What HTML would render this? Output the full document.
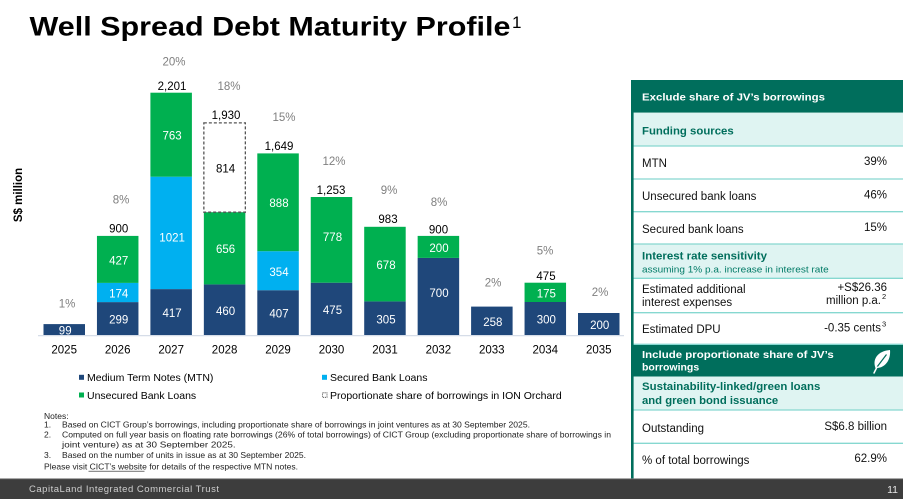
<!DOCTYPE html>
<html><head><meta charset="utf-8">
<style>
html,body{margin:0;padding:0;background:#fff;}
body{width:903px;height:499px;overflow:hidden;}
svg{display:block;font-family:"Liberation Sans",Arial,sans-serif;}
</style></head>
<body>
<svg width="903" height="499" viewBox="0 0 903 499" xmlns="http://www.w3.org/2000/svg">
<rect x="0" y="0" width="903" height="499" fill="#ffffff"/>

<!-- Title -->
<text x="29.5" y="35.7" font-size="27" font-weight="bold" fill="#000" textLength="481" lengthAdjust="spacingAndGlyphs">Well Spread Debt Maturity Profile</text>
<text x="512" y="28" font-size="17" fill="#000">1</text>

<!-- Y axis label -->
<text transform="translate(22,195) rotate(-90)" text-anchor="middle" font-size="11.5" font-weight="bold" fill="#000">S$ million</text>

<!-- Bars -->
<g>
<rect x="43.5" y="324.1" width="41.5" height="10.9" fill="#1f477a"/>

<rect x="96.95" y="302.1" width="41.5" height="32.9" fill="#1f477a"/>
<rect x="96.95" y="282.9" width="41.5" height="19.2" fill="#00b0f0"/>
<rect x="96.95" y="235.9" width="41.5" height="47.0" fill="#00b050"/>

<rect x="150.4" y="289.1" width="41.5" height="45.9" fill="#1f477a"/>
<rect x="150.4" y="176.7" width="41.5" height="112.4" fill="#00b0f0"/>
<rect x="150.4" y="92.7" width="41.5" height="84.0" fill="#00b050"/>

<rect x="203.85" y="284.4" width="41.5" height="50.6" fill="#1f477a"/>
<rect x="203.85" y="212.2" width="41.5" height="72.2" fill="#00b050"/>
<rect x="203.85" y="122.9" width="41.5" height="89.3" fill="none" stroke="#555" stroke-width="1.3" stroke-dasharray="3 2"/>

<rect x="257.3" y="290.2" width="41.5" height="44.8" fill="#1f477a"/>
<rect x="257.3" y="251.2" width="41.5" height="39.0" fill="#00b0f0"/>
<rect x="257.3" y="153.4" width="41.5" height="97.8" fill="#00b050"/>

<rect x="310.75" y="282.7" width="41.5" height="52.3" fill="#1f477a"/>
<rect x="310.75" y="197.0" width="41.5" height="85.7" fill="#00b050"/>

<rect x="364.2" y="301.4" width="41.5" height="33.6" fill="#1f477a"/>
<rect x="364.2" y="226.8" width="41.5" height="74.6" fill="#00b050"/>

<rect x="417.65" y="257.9" width="41.5" height="77.1" fill="#1f477a"/>
<rect x="417.65" y="235.9" width="41.5" height="22.0" fill="#00b050"/>

<rect x="471.1" y="306.6" width="41.5" height="28.4" fill="#1f477a"/>

<rect x="524.55" y="302.0" width="41.5" height="33.0" fill="#1f477a"/>
<rect x="524.55" y="282.7" width="41.5" height="19.3" fill="#00b050"/>

<rect x="578.0" y="313.0" width="41.5" height="22.0" fill="#1f477a"/>
</g>

<!-- axis line -->
<line x1="38" y1="335.6" x2="624" y2="335.6" stroke="#d6dde8" stroke-width="1.2"/>

<!-- inner labels -->
<g font-size="11.5" fill="#fff" text-anchor="middle">
<text x="65.2" y="334.6">99</text>
<text x="118.7" y="323.4">299</text>
<text x="118.7" y="297.4">174</text>
<text x="118.7" y="264.4">427</text>
<text x="172.1" y="316.8">417</text>
<text x="172.1" y="241.4">1021</text>
<text x="172.1" y="139.4">763</text>
<text x="225.6" y="314.8">460</text>
<text x="225.6" y="253.1">656</text>
<text x="225.6" y="172.4" fill="#000">814</text>
<text x="279" y="317.4">407</text>
<text x="279" y="275.8">354</text>
<text x="279" y="207.1">888</text>
<text x="332.5" y="314.1">475</text>
<text x="332.5" y="241.1">778</text>
<text x="386" y="323.4">305</text>
<text x="386" y="269.1">678</text>
<text x="439" y="296.8">700</text>
<text x="439" y="251.8">200</text>
<text x="492.8" y="325.8">258</text>
<text x="546.3" y="323.4">300</text>
<text x="546.3" y="297.4">175</text>
<text x="599.7" y="329.1">200</text>
</g>

<!-- totals -->
<g font-size="11.5" fill="#000" text-anchor="middle">
<text x="118.7" y="232.4">900</text>
<text x="172" y="90.1">2,201</text>
<text x="226" y="119.1">1,930</text>
<text x="279" y="150.1">1,649</text>
<text x="331" y="193.8">1,253</text>
<text x="388" y="223.1">983</text>
<text x="438.5" y="233.4">900</text>
<text x="546" y="280.1">475</text>
</g>

<!-- percentages -->
<g font-size="11.5" fill="#7f7f7f" text-anchor="middle">
<text x="67" y="307.4">1%</text>
<text x="121" y="203.4">8%</text>
<text x="174" y="65.4">20%</text>
<text x="229" y="89.8">18%</text>
<text x="284" y="120.8">15%</text>
<text x="334" y="165.1">12%</text>
<text x="389" y="193.8">9%</text>
<text x="439" y="205.8">8%</text>
<text x="493" y="286.4">2%</text>
<text x="545" y="254.4">5%</text>
<text x="600" y="296.1">2%</text>
</g>

<!-- years -->
<g font-size="11.5" fill="#000" text-anchor="middle">
<text x="64.2" y="353.4">2025</text>
<text x="117.7" y="353.4">2026</text>
<text x="171.2" y="353.4">2027</text>
<text x="224.6" y="353.4">2028</text>
<text x="278" y="353.4">2029</text>
<text x="331.5" y="353.4">2030</text>
<text x="385" y="353.4">2031</text>
<text x="438.4" y="353.4">2032</text>
<text x="491.8" y="353.4">2033</text>
<text x="545.3" y="353.4">2034</text>
<text x="598.8" y="353.4">2035</text>
</g>

<!-- legend -->
<rect x="79" y="374.8" width="5" height="5" fill="#1f477a"/>
<text x="87" y="381.1" font-size="10.5" fill="#000">Medium Term Notes (MTN)</text>
<rect x="322" y="374.8" width="5" height="5" fill="#00b0f0"/>
<text x="330" y="381.1" font-size="10.5" fill="#000">Secured Bank Loans</text>
<rect x="79" y="392.5" width="5" height="5" fill="#00b050"/>
<text x="87" y="398.8" font-size="10.5" fill="#000">Unsecured Bank Loans</text>
<rect x="322.5" y="392.8" width="4.5" height="4.5" fill="none" stroke="#444" stroke-width="0.8" stroke-dasharray="1.2 0.8"/>
<text x="330" y="398.8" font-size="10.5" fill="#000">Proportionate share of borrowings in ION Orchard</text>

<!-- notes -->
<g font-size="8.5" fill="#222">
<text x="44" y="419">Notes:</text>
<text x="44" y="427.3">1.</text>
<text x="62" y="427.3" textLength="468" lengthAdjust="spacingAndGlyphs">Based on CICT Group’s borrowings, including proportionate share of borrowings in joint ventures as at 30 September 2025.</text>
<text x="44" y="437.3">2.</text>
<text x="62" y="437.3" textLength="549" lengthAdjust="spacingAndGlyphs">Computed on full year basis on floating rate borrowings (26% of total borrowings) of CICT Group (excluding proportionate share of borrowings in</text>
<text x="62" y="447.3" textLength="173.6" lengthAdjust="spacingAndGlyphs">joint venture) as at 30 September 2025.</text>
<text x="44" y="458">3.</text>
<text x="62" y="458" textLength="244" lengthAdjust="spacingAndGlyphs">Based on the number of units in issue as at 30 September 2025.</text>
<text x="44" y="469.7" textLength="254" lengthAdjust="spacingAndGlyphs">Please visit CICT’s website for details of the respective MTN notes.</text>
</g>
<line x1="88.5" y1="471.2" x2="144.5" y2="471.2" stroke="#222" stroke-width="0.7"/>

<!-- right panel -->
<rect x="631" y="80" width="272" height="399" fill="#ffffff"/>
<rect x="631" y="80" width="272" height="32.7" fill="#006e5c"/>
<rect x="631" y="112.7" width="272" height="33.3" fill="#dff4f2"/>
<rect x="631" y="244" width="272" height="34.3" fill="#dff4f2"/>
<rect x="631" y="345" width="272" height="31.5" fill="#006e5c"/>
<rect x="631" y="376.5" width="272" height="33.5" fill="#dff4f2"/>
<g stroke="#86d8d0" stroke-width="1.3">
<line x1="631" y1="146" x2="903" y2="146"/>
<line x1="631" y1="179" x2="903" y2="179"/>
<line x1="631" y1="211.7" x2="903" y2="211.7"/>
<line x1="631" y1="244" x2="903" y2="244"/>
<line x1="631" y1="278.3" x2="903" y2="278.3"/>
<line x1="631" y1="312.7" x2="903" y2="312.7"/>
<line x1="631" y1="344.3" x2="903" y2="344.3"/>
<line x1="631" y1="410" x2="903" y2="410"/>
<line x1="631" y1="443.3" x2="903" y2="443.3"/>
</g>
<rect x="631" y="80" width="2.6" height="399" fill="#006e5c"/>

<text x="642" y="100.5" font-size="10.5" font-weight="bold" fill="#fff" textLength="183" lengthAdjust="spacingAndGlyphs">Exclude share of JV’s borrowings</text>
<text x="642" y="134.3" font-size="11.3" font-weight="bold" fill="#006e5c" textLength="91.7" lengthAdjust="spacingAndGlyphs">Funding sources</text>

<g font-size="11.5" fill="#111">
<text x="642" y="166.8">MTN</text>
<text x="887" y="164.8" text-anchor="end">39%</text>
<text x="642" y="200.1">Unsecured bank loans</text>
<text x="887" y="198.4" text-anchor="end">46%</text>
<text x="642" y="232.8">Secured bank loans</text>
<text x="887" y="230.8" text-anchor="end">15%</text>
<text x="642" y="293.1">Estimated additional</text>
<text x="642" y="305.8">interest expenses</text>
<text x="887" y="290.8" text-anchor="end">+S$26.36</text>
<text x="881" y="304.1" text-anchor="end">million p.a.</text>
<text x="882" y="299" font-size="7.5">2</text>
<text x="642" y="333.1">Estimated DPU</text>
<text x="881" y="331.4" text-anchor="end">-0.35 cents</text>
<text x="882" y="326.5" font-size="7.5">3</text>
<text x="642" y="431.8">Outstanding</text>
<text x="887" y="430.1" text-anchor="end">S$6.8 billion</text>
<text x="642" y="464.1">% of total borrowings</text>
<text x="887" y="462.1" text-anchor="end">62.9%</text>
</g>

<text x="642" y="259.7" font-size="11.3" font-weight="bold" fill="#006e5c" textLength="125" lengthAdjust="spacingAndGlyphs">Interest rate sensitivity</text>
<text x="642" y="272.6" font-size="9.3" fill="#007a66" textLength="186.7" lengthAdjust="spacingAndGlyphs">assuming 1% p.a. increase in interest rate</text>

<text x="642" y="357.8" font-size="10.5" font-weight="bold" fill="#fff" textLength="191.7" lengthAdjust="spacingAndGlyphs">Include proportionate share of JV’s</text>
<text x="642" y="370.5" font-size="10.5" font-weight="bold" fill="#fff">borrowings</text>

<!-- leaf icon -->
<path d="M890,350 C878,351 872,359 875.5,368 C884,368.5 891,361 890,350 Z" fill="#fff"/>
<line x1="886.5" y1="354.5" x2="877" y2="367" stroke="#006e5c" stroke-width="1.2"/>
<line x1="877" y1="367" x2="874" y2="373" stroke="#fff" stroke-width="1.5" stroke-linecap="round"/>

<text x="642" y="390" font-size="11.3" font-weight="bold" fill="#006e5c" textLength="178.3" lengthAdjust="spacingAndGlyphs">Sustainability-linked/green loans</text>
<text x="642" y="404" font-size="11.3" font-weight="bold" fill="#006e5c">and green bond issuance</text>

<!-- footer -->
<rect x="0" y="478.5" width="903" height="20.5" fill="#3d3d3d"/>
<line x1="0" y1="478.8" x2="903" y2="478.8" stroke="#777" stroke-width="0.8"/>
<text x="29" y="492.2" font-size="9.5" fill="#cfcfcf" textLength="190" lengthAdjust="spacing">CapitaLand Integrated Commercial Trust</text>
<text x="898" y="493" font-size="10.5" fill="#e6e6e6" text-anchor="end">11</text>
</svg>
</body></html>
